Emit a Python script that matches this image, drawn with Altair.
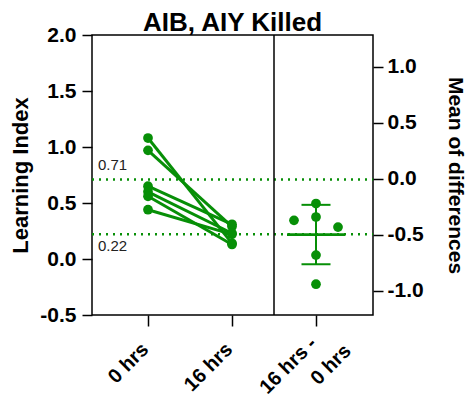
import altair as alt
import pandas as pd

# ---- data ----
conditions = ["0 hrs", "16 hrs"]
zero_hrs = [1.08, 0.97, 0.65, 0.60, 0.56, 0.44]
sixteen_hrs = [0.14, 0.29, 0.31, 0.23, 0.13, 0.22]
diff_jitter = [0, 0, 0, -22, 22, 0]
group_means = [0.71, 0.22]
mean_labels = ["0.71", "0.22"]
left_ticks = [-0.5, 0.0, 0.5, 1.0, 1.5, 2.0]
right_ticks = [-1.0, -0.5, 0.0, 0.5, 1.0]
x_labels = ["0 hrs", "16 hrs", "16 hrs -", "0 hrs"]

GREEN = "#078f07"
FONT = "Liberation Sans"
X_POS = {"0 hrs": 56, "16 hrs": 140, "diff": 224}
DIVIDER = 182
LEFT_DOMAIN = [-0.5, 2.0]
OFFSET = 0.715
RIGHT_DOMAIN = [LEFT_DOMAIN[0] - OFFSET, LEFT_DOMAIN[1] - OFFSET]

rows = []
for i, (a, b) in enumerate(zip(zero_hrs, sixteen_hrs)):
    rows.append({"subject": i, "x": X_POS[conditions[0]], "v": a})
    rows.append({"subject": i, "x": X_POS[conditions[1]], "v": b})
pairs_df = pd.DataFrame(rows)

diffs = [b - a for a, b in zip(zero_hrs, sixteen_hrs)]
diff_df = pd.DataFrame({"x": [X_POS["diff"] + j for j in diff_jitter], "v": diffs})
means_df = pd.DataFrame({"v": group_means, "label": mean_labels})
divider_df = pd.DataFrame({"x": [DIVIDER]})
wrap_df = pd.DataFrame({"x": [X_POS["diff"] + 32], "t": [x_labels[3]]})

minus_fix = "replace(format(datum.value, '.1f'), '\u2212', '-')"
label_expr = (
    f"datum.value == 56 ? '{x_labels[0]}' : datum.value == 140 ? '{x_labels[1]}' : '{x_labels[2]}'"
)

x_axis = alt.Axis(
    values=[X_POS["0 hrs"], X_POS["16 hrs"], X_POS["diff"]],
    labelExpr=label_expr,
    labelAngle=-45, labelFont=FONT, labelFontSize=20, labelFontWeight="bold",
    labelColor="black", labelOverlap=False, labelFlush=False,
    labelPadding={"condition": {"test": "datum.value == 224", "value": 14}, "value": 20},
    labelOffset=-3,
    labelBaseline="middle", labelAlign="right",
    tickSize=11, tickWidth=1.5, tickColor="black", domain=False, grid=False, title=None,
)
left_axis = alt.Axis(
    values=left_ticks, labelExpr=minus_fix, orient="left",
    labelFont=FONT, labelFontSize=21, labelFontWeight="bold", labelColor="black",
    labelPadding=6, tickSize=10, tickWidth=1.5, tickColor="black",
    domain=False, grid=False, title="Learning Index",
    titleFont=FONT, titleFontSize=22, titleFontWeight="bold", titleColor="black",
    titlePadding=7,
)
right_axis = alt.Axis(
    values=right_ticks, labelExpr=minus_fix, orient="right",
    labelFont=FONT, labelFontSize=21, labelFontWeight="bold", labelColor="black",
    labelPadding=4, tickSize=10, tickWidth=1.5, tickColor="black",
    domain=False, grid=False, title="Mean of differences",
    titleFont=FONT, titleFontSize=21, titleFontWeight="bold", titleColor="black",
    titlePadding=21,
)

X = lambda f: alt.X(f, type="quantitative", scale=alt.Scale(domain=[0, 281]), axis=x_axis)
YL = lambda f: alt.Y(f, type="quantitative", scale=alt.Scale(domain=LEFT_DOMAIN), axis=left_axis)
YR = lambda f: alt.Y(f, type="quantitative", scale=alt.Scale(domain=RIGHT_DOMAIN), axis=right_axis)

lines = alt.Chart(pairs_df).mark_line(color=GREEN, strokeWidth=3).encode(
    x=X("x"), y=YL("v"), detail="subject:N"
)
pts = alt.Chart(pairs_df).mark_circle(color=GREEN, size=95, opacity=1).encode(
    x=X("x"), y=YL("v")
)
dotted = alt.Chart(means_df).mark_rule(color=GREEN, strokeWidth=2.5, strokeDash=[2, 5]).encode(
    y=YL("v"), x=alt.value(0), x2=alt.value(281)
)
lab_top = alt.Chart(means_df.iloc[[0]]).mark_text(
    align="left", baseline="bottom", dy=-6, font=FONT, fontSize=15, color="#222"
).encode(y=YL("v"), x=alt.value(6), text="label:N")
lab_bot = alt.Chart(means_df.iloc[[1]]).mark_text(
    align="left", baseline="top", dy=5, font=FONT, fontSize=15, color="#222"
).encode(y=YL("v"), x=alt.value(6), text="label:N")
divider = alt.Chart(divider_df).mark_rule(color="black", strokeWidth=1.5).encode(
    x=X("x"), y=alt.value(0), y2=alt.value(280)
)
# second line of the wrapped "16 hrs - 0 hrs" tick label
wrap = alt.Chart(wrap_df).mark_text(
    angle=315, align="right", baseline="middle", font=FONT, fontSize=20,
    fontWeight="bold", color="black",
).encode(x=X("x"), y=alt.value(313), text="t:N")

left = alt.layer(dotted, lines, pts, lab_top, lab_bot, divider, wrap)

dpts = alt.Chart(diff_df).mark_circle(color=GREEN, size=95, opacity=1).encode(
    x=X("x"), y=YR("v")
)
summary = alt.Chart(diff_df).transform_aggregate(
    m="mean(v)", s="stdev(v)"
).transform_calculate(
    lo="datum.m - datum.s", hi="datum.m + datum.s",
    xc="224", xm1="195", xm2="253", xc1="209.5", xc2="238.5",
)
mean_line = summary.mark_rule(color=GREEN, strokeWidth=2.7).encode(
    x=X("xm1"), x2="xm2:Q", y=YR("m")
)
vbar = summary.mark_rule(color=GREEN, strokeWidth=2).encode(
    x=X("xc"), y=YR("lo"), y2="hi:Q"
)
cap_lo = summary.mark_rule(color=GREEN, strokeWidth=2).encode(
    x=X("xc1"), x2="xc2:Q", y=YR("lo")
)
cap_hi = summary.mark_rule(color=GREEN, strokeWidth=2).encode(
    x=X("xc1"), x2="xc2:Q", y=YR("hi")
)
right = alt.layer(dpts, mean_line, vbar, cap_lo, cap_hi)

chart = alt.layer(left, right).resolve_scale(y="independent").properties(
    width=281, height=280,
    title=alt.TitleParams("AIB, AIY Killed", font=FONT, fontSize=26, fontWeight="bold",
                          color="black", anchor="middle", offset=-12),
    autosize=alt.AutoSizeParams(type="none"),
    padding={"left": 84, "top": 27, "right": 95, "bottom": 88},
).configure_view(stroke="black", strokeWidth=1.5)

chart.save("out.html", embed_options={"renderer": "svg", "actions": False})
